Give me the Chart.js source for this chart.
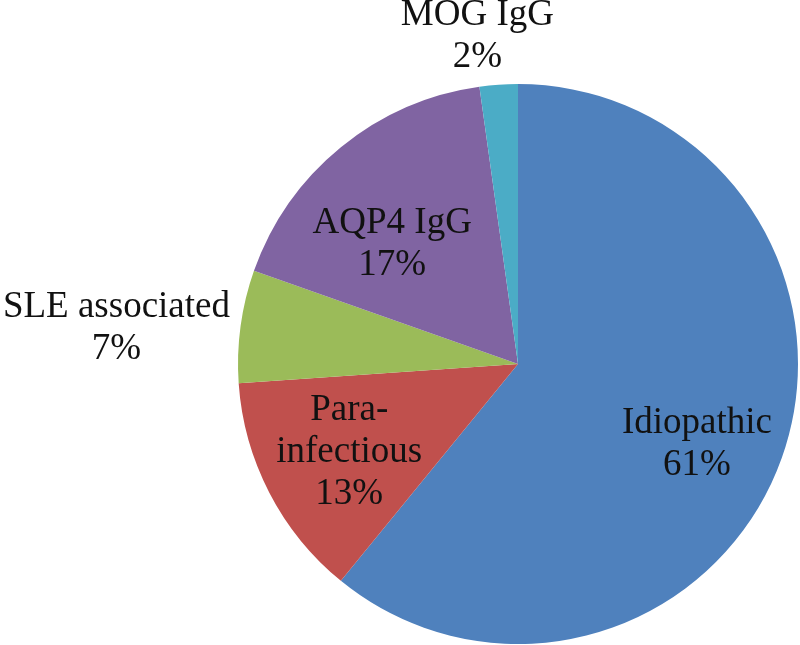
<!DOCTYPE html>
<html>
<head>
<meta charset="utf-8">
<script src="https://cdn.jsdelivr.net/npm/chart.js@4/dist/chart.umd.min.js"></script>
<style>
  html, body { margin: 0; padding: 0; background: #ffffff; }
  #wrap { width: 800px; height: 645px; }
</style>
</head>
<body>
<div id="wrap"><canvas id="c" width="800" height="645"></canvas></div>
<script>
// ---- data ----
const categories = ['Idiopathic', 'Para-infectious', 'SLE associated', 'AQP4 IgG', 'MOG IgG'];
const labelLines = [['Idiopathic'], ['Para-', 'infectious'], ['SLE associated'], ['AQP4 IgG'], ['MOG IgG']];
const shares = [60.9, 13.0, 6.5, 17.4, 2.2];
const colors = ['#4F81BD', '#C0504D', '#9BBB59', '#8064A2', '#4BACC6'];

// label placement relative to each slice: angle shift (deg) and radius factor
const labelPlacement = [
  { dAngle: 4.5, rFactor: 0.70 },
  { dAngle: -0.2, rFactor: 0.68 },
  { dAngle: -2.6, rFactor: 1.44 },
  { dAngle: -7.2, rFactor: 0.62 },
  { dAngle: -3.1, rFactor: 1.18 }
];

const sliceLabels = {
  id: 'sliceLabels',
  afterDatasetsDraw(chart) {
    const ctx = chart.ctx;
    const meta = chart.getDatasetMeta(0);
    const data = chart.data.datasets[0].data;
    ctx.save();
    ctx.font = '37px "Liberation Serif", "Times New Roman", serif';
    ctx.fillStyle = '#111111';
    ctx.textAlign = 'center';
    ctx.textBaseline = 'middle';
    const lineH = 42;
    meta.data.forEach((arc, i) => {
      const p = arc.getProps(['x', 'y', 'startAngle', 'endAngle', 'outerRadius'], true);
      const mid = (p.startAngle + p.endAngle) / 2 + labelPlacement[i].dAngle * Math.PI / 180;
      const r = p.outerRadius * labelPlacement[i].rFactor;
      const cx = p.x + Math.cos(mid) * r;
      const cy = p.y + Math.sin(mid) * r;
      const lines = labelLines[i].concat([Math.round(data[i]) + '%']);
      const y0 = cy - (lines.length - 1) * lineH / 2;
      lines.forEach((t, k) => ctx.fillText(t, cx, y0 + k * lineH));
    });
    ctx.restore();
  }
};

new Chart(document.getElementById('c'), {
  type: 'pie',
  data: {
    labels: categories,
    datasets: [{
      data: shares,
      backgroundColor: colors,
      borderWidth: 0
    }]
  },
  options: {
    responsive: false,
    animation: false,
    layout: { padding: { left: 238, right: 2, top: 84, bottom: 1 } },
    plugins: {
      legend: { display: false },
      tooltip: { enabled: false }
    }
  },
  plugins: [sliceLabels]
});
</script>
</body>
</html>
